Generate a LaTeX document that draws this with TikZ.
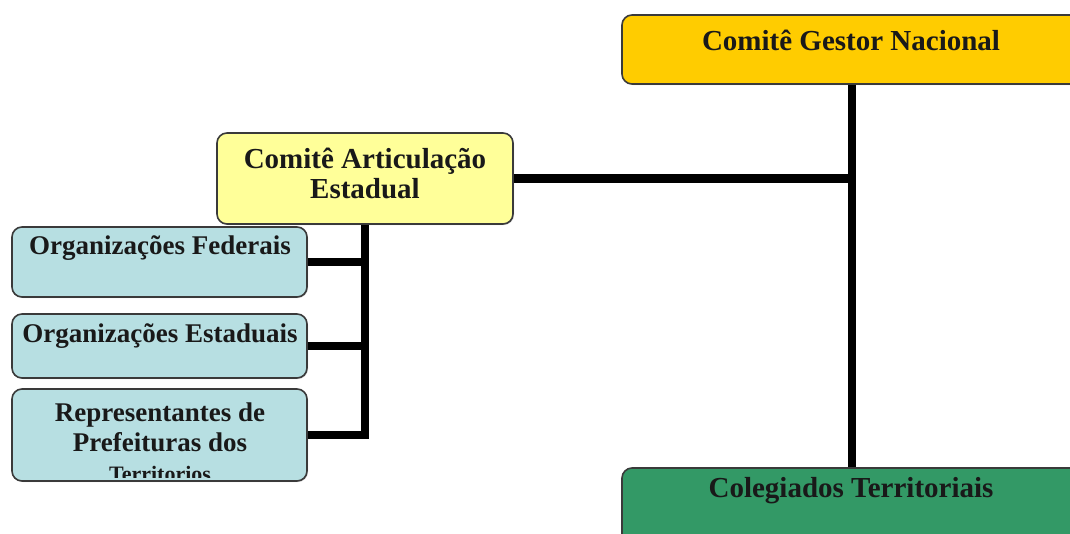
\documentclass[tikz,border=0pt]{standalone}
\usepackage{fontspec}
\setmainfont{Liberation Serif}
\definecolor{gestorc}{HTML}{FFCC00}
\definecolor{articc}{HTML}{FFFF99}
\definecolor{orgc}{HTML}{B7DFE2}
\definecolor{colegc}{HTML}{339966}
\definecolor{edgec}{HTML}{3A3A3A}
\tikzset{
  box/.style={draw=edgec, line width=1.6pt, rounded corners=10pt, inner sep=0pt,
    drop shadow={shadow xshift=1pt, shadow yshift=-1pt, opacity=0.35}},
  lbl/.style={inner sep=0pt, align=center, font=\fontsize{27}{30}\selectfont\bfseries, text=black!90},
  biglbl/.style={lbl, font=\fontsize{29}{30}\selectfont\bfseries},
  conn/.style={line width=8.5pt, black}
}
\usetikzlibrary{shadows}
\begin{document}
\begin{tikzpicture}[x=1pt,y=-1pt]
\useasboundingbox (0,0) rectangle (1070,533);
\clip (0,0) rectangle (1070,533);
% boxes
\node[box, fill=gestorc, minimum width=460pt, minimum height=69pt] (gestor) at (852,49.5) {};
\node[box, fill=articc, minimum width=296pt, minimum height=91pt] (artic) at (365,178.5) {};
\node[box, fill=orgc, minimum width=295pt, minimum height=70pt] (fed) at (159.5,262) {};
\node[box, fill=orgc, minimum width=295pt, minimum height=64pt] (est) at (159.5,346) {};
\node[box, fill=orgc, minimum width=295pt, minimum height=92pt] (rep) at (159.5,435) {};
\node[box, fill=colegc, minimum width=460pt, minimum height=92pt] (coleg) at (852,514) {};
% texts
\node[biglbl] (tgestor) at (851,40) {Comitê Gestor Nacional};
\node[biglbl] (tartic) at (365,173) {Comitê Articulação\\Estadual};
\node[lbl] (tfed) at (160,248) {Organizações Federais};
\node[lbl] (test) at (160,336) {Organizações Estaduais};
\node[lbl] (trep) at (160,427) {Representantes de\\Prefeituras dos};
\begin{scope}
  \clip (12,389) [rounded corners=10pt] rectangle (307,477);
  \node[lbl, font=\fontsize{22}{24}\selectfont\bfseries, anchor=base] (tterr) at (160,481) {Territorios};
\end{scope}
\node[biglbl] (tcoleg) at (851,491) {Colegiados Territoriais};
% connectors
\draw[conn] (gestor.south) -- (coleg.north);
\draw[conn] (artic.east) -- (artic.east -| gestor.south);
\draw[conn] (artic.south) |- (rep.east);
\draw[conn] (fed.east) -- (fed.east -| artic.south);
\draw[conn] (est.east) -- (est.east -| artic.south);
\end{tikzpicture}
\end{document}
